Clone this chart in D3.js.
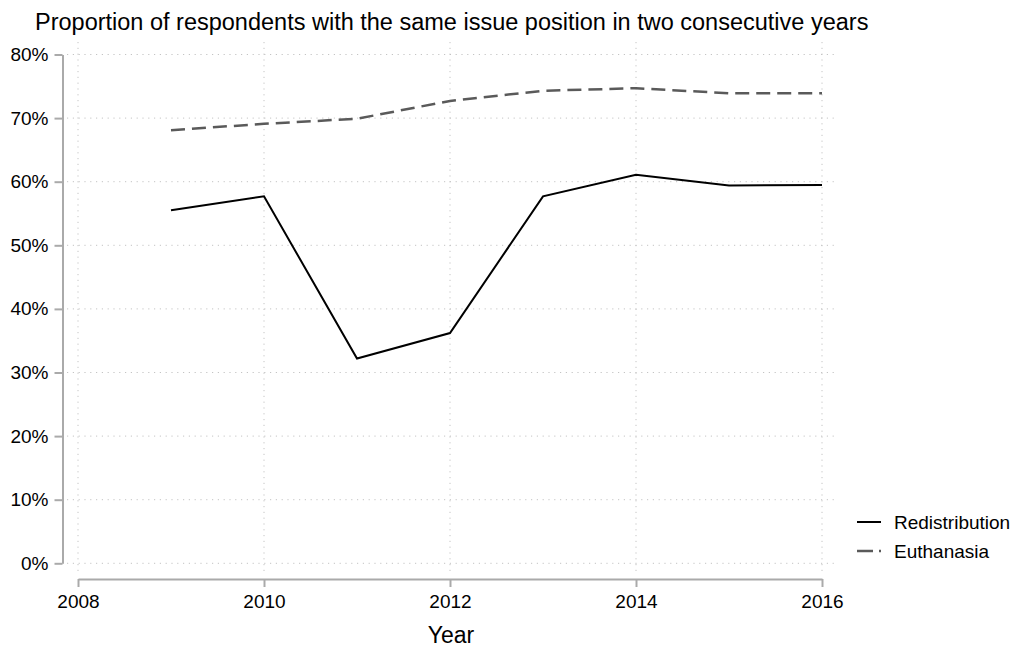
<!DOCTYPE html>
<html>
<head>
<meta charset="utf-8">
<script src="https://cdn.jsdelivr.net/npm/d3@7"></script>
<style>
  body { margin: 0; background: #fff; }
  svg { display: block; font-family: "Liberation Sans", Arial, Helvetica, sans-serif; }
</style>
</head>
<body>
<svg id="chart" width="1016" height="649"></svg>
<script>
// Survey waves and share of respondents keeping the same position (percent)
const years = [2009, 2010, 2011, 2012, 2013, 2014, 2015, 2016];
const redistribution = [55.5, 57.7, 32.2, 36.2, 57.7, 61.1, 59.4, 59.5];
const euthanasia = [68.1, 69.1, 69.9, 72.7, 74.3, 74.7, 73.9, 73.9];
const yTicks = [0, 10, 20, 30, 40, 50, 60, 70, 80];
const xTicks = [2008, 2010, 2012, 2014, 2016];
const seriesNames = ["Redistribution", "Euthanasia"];

const svg = d3.select("#chart");
const plotLeft = 78, plotRight = 822, plotTop = 54.5, plotBottom = 563.3;
const font = "'Liberation Sans', Arial, Helvetica, sans-serif";

const x = d3.scaleLinear().domain([2008, 2016]).range([plotLeft, plotRight]);
const y = d3.scaleLinear().domain([0, 80]).range([plotBottom, plotTop]);

// Title
svg.append("text")
  .attr("x", 35).attr("y", 30)
  .attr("font-size", 23.5).attr("fill", "#000")
  .text("Proportion of respondents with the same issue position in two consecutive years");

// Dotted grid
const grid = svg.append("g").attr("stroke", "#c4c4c4").attr("stroke-width", 1)
  .attr("stroke-dasharray", "1.2,4.6");
grid.selectAll("line.h").data(yTicks).join("line").attr("class", "h")
  .attr("x1", 67).attr("x2", 838)
  .attr("y1", d => y(d)).attr("y2", d => y(d));
grid.selectAll("line.v").data(xTicks).join("line").attr("class", "v")
  .attr("x1", d => x(d)).attr("x2", d => x(d))
  .attr("y1", 42).attr("y2", 573);

// Y axis
const yAxis = svg.append("g").attr("transform", "translate(62.5,0)")
  .call(d3.axisLeft(y).tickValues(yTicks).tickFormat(d => d + "%")
    .tickSize(8).tickSizeOuter(0).tickPadding(6));
yAxis.select(".domain").attr("stroke", "#aaa").attr("stroke-width", 2);
yAxis.selectAll(".tick line").attr("stroke", "#aaa").attr("stroke-width", 2);
yAxis.selectAll("text").attr("font-size", 19).attr("fill", "#000").attr("font-family", font);

// X axis
const xAxis = svg.append("g").attr("transform", "translate(0,579)")
  .call(d3.axisBottom(x).tickValues(xTicks).tickFormat(d3.format("d"))
    .tickSize(8).tickSizeOuter(0).tickPadding(8));
xAxis.select(".domain").attr("stroke", "#aaa").attr("stroke-width", 2);
xAxis.selectAll(".tick line").attr("stroke", "#aaa").attr("stroke-width", 2);
xAxis.selectAll("text").attr("font-size", 19).attr("fill", "#000").attr("font-family", font);

svg.append("text")
  .attr("x", x(2012) + 1).attr("y", 643).attr("text-anchor", "middle")
  .attr("font-size", 23).attr("fill", "#000").text("Year");

// Series lines
const line = d3.line().x((d, i) => x(years[i])).y(d => y(d));
svg.append("path").datum(redistribution)
  .attr("d", line).attr("fill", "none")
  .attr("stroke", "#000").attr("stroke-width", 2).attr("stroke-linejoin", "miter");
svg.append("path").datum(euthanasia)
  .attr("d", line).attr("fill", "none")
  .attr("stroke", "#5a5a5a").attr("stroke-width", 2.5).attr("stroke-dasharray", "14,7");

// Legend
const legend = svg.append("g");
legend.append("line").attr("x1", 857).attr("x2", 881).attr("y1", 522).attr("y2", 522)
  .attr("stroke", "#000").attr("stroke-width", 2);
legend.append("line").attr("x1", 857).attr("x2", 873).attr("y1", 551).attr("y2", 551)
  .attr("stroke", "#5a5a5a").attr("stroke-width", 2.5);
legend.append("line").attr("x1", 879).attr("x2", 881).attr("y1", 551).attr("y2", 551)
  .attr("stroke", "#5a5a5a").attr("stroke-width", 2.5);
legend.selectAll("text").data(seriesNames).join("text")
  .attr("x", 894).attr("y", (d, i) => 529 + i * 29)
  .attr("font-size", 19).attr("fill", "#000").text(d => d);
</script>
</body>
</html>
